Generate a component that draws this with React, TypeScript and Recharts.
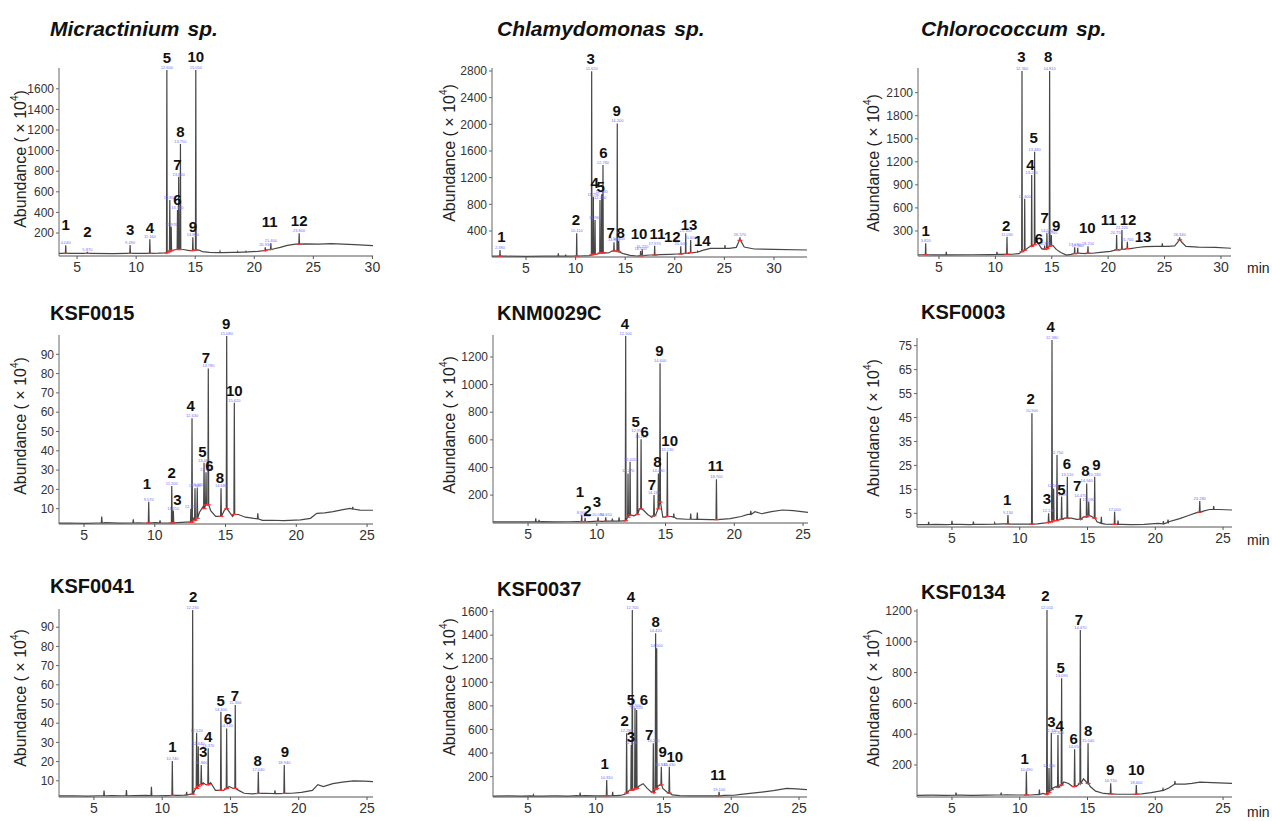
import React from 'react';
import { ComposedChart, Line, XAxis, YAxis, ReferenceDot } from 'recharts';

// [time, abundance] points of the slowly varying trace between peaks
const base1 = [[3.47, 2], [4.5, 3], [6, 2], [8, 1], [9.2, 2], [10.5, 3], [11.9, 4], [12.4, 6], [12.75, 25], [13.2, 35], [13.4, 40], [14.0, 40], [14.5, 30], [15.3, 35], [15.6, 20], [16.2, 12], [17.0, 10], [17.3, 10], [18.2, 12], [19.0, 14], [19.5, 18], [20.3, 22], [21.0, 35], [21.6, 45], [22.2, 60], [22.8, 80], [23.5, 92], [24.3, 95], [25.5, 92], [26.5, 98], [27.5, 92], [28.5, 88], [30.05, 78]];
const base2 = [[1.57, 22], [2.2, 22], [3, 22], [5, 20], [7, 22], [8.0, 22], [8.5, 22], [9.3, 22], [10, 25], [10.3, 25], [11.4, 30], [12.2, 55], [12.9, 75], [13.3, 70], [13.7, 100], [14.45, 80], [14.8, 60], [15.5, 35], [16.2, 25], [17.5, 40], [18.5, 45], [19.5, 50], [20.3, 55], [21.4, 65], [22.0, 80], [22.8, 110], [23.6, 140], [24.6, 140], [25.5, 140], [26.2, 155], [26.45, 240], [26.7, 240], [27.0, 160], [28, 130], [30, 125], [33.33, 115]];
const base3 = [[3.14, -10], [4.5, -12], [6, -12], [8, -10], [9.5, -8], [10.6, -5], [11.5, -3], [12.1, 5], [12.45, 30], [12.9, 80], [13.1, 100], [13.35, 110], [13.6, 200], [13.75, 150], [14.1, 70], [14.45, 60], [14.7, 90], [15.1, 110], [15.4, 60], [15.8, 20], [16.3, -15], [16.7, -5], [17.5, 10], [18.0, 5], [18.6, 10], [19.3, 20], [20.2, 35], [21.0, 50], [21.45, 60], [22.0, 70], [22.6, 85], [23.3, 95], [24.2, 100], [25.3, 100], [25.9, 105], [26.15, 150], [26.55, 150], [26.9, 100], [28, 90], [29.5, 85], [30.89, 75]];
const base4 = [[3.23, 2.5], [4, 2.6], [5, 2.4], [6.0, 2.6], [6.5, 2.8], [7.5, 2.5], [8.8, 2.7], [9.3, 2.6], [10, 2.8], [10.8, 2.6], [11.6, 2.8], [12.2, 3], [12.75, 5], [13.15, 8], [13.4, 11], [13.95, 9], [14.3, 6], [14.5, 6], [14.9, 9], [15.3, 8], [15.5, 6], [15.9, 7], [16.4, 5.6], [17.0, 5], [17.6, 4], [18.3, 4], [19.1, 3.8], [20.3, 4.2], [21.0, 5], [21.45, 7.6], [22.0, 7.8], [22.6, 8.5], [23.3, 9.5], [23.8, 10.2], [24.5, 9.3], [25.42, 9.2]];
const base5 = [[2.45, 6], [3.5, 6], [4.5, 7], [5.2, 6], [6.0, 8], [7, 6], [8, 7], [8.6, 8], [9.5, 8], [9.8, 10], [10.4, 10], [10.9, 11], [11.4, 12], [11.9, 14], [12.35, 60], [12.7, 50], [13.1, 100], [13.4, 90], [13.7, 60], [14.0, 40], [14.3, 60], [14.8, 40], [15.0, 40], [15.4, 45], [15.8, 30], [16.5, 25], [17.6, 24], [18.3, 22], [19.0, 24], [19.7, 30], [20.5, 45], [21.0, 60], [21.5, 80], [22.0, 65], [22.7, 80], [23.5, 92], [24.3, 88], [25.36, 75]];
const base6 = [[2.42, 0.3], [3.8, 0.4], [4.6, 0.3], [5.6, 0.4], [6.3, 0.3], [7.2, 0.4], [8.3, 0.5], [8.8, 0.6], [9.5, 0.5], [10.4, 0.5], [11.3, 0.6], [11.9, 1.0], [12.2, 1.5], [12.62, 2], [12.95, 2.5], [13.3, 3], [13.8, 3], [14.2, 2.5], [14.7, 3.5], [15.2, 4], [15.7, 1.5], [16.3, 0.5], [17.5, 0.4], [18.2, 0.3], [19.2, 0.4], [20.2, 0.8], [21.0, 1.5], [21.8, 2.8], [22.5, 4.2], [23.0, 5.2], [23.6, 6.0], [24.0, 6.6], [24.7, 6.6], [25.66, 6.4]];
const base7 = [[2.44, 2.1], [3.5, 2.2], [4.5, 2.0], [5.3, 2.2], [6.3, 2.3], [7.0, 2.2], [8, 2.3], [8.8, 2.4], [9.6, 2.2], [10.3, 2.3], [11.2, 2.4], [11.6, 2.5], [12.1, 3], [12.45, 6], [12.7, 8], [13.0, 9], [13.2, 8], [13.55, 9], [13.9, 5], [14.5, 5], [14.9, 7], [15.2, 6], [15.6, 5], [16.0, 3.5], [16.6, 3.2], [17.5, 3.5], [18.5, 3.3], [19.5, 3.5], [20.2, 4], [21.0, 5], [21.4, 8], [21.8, 7], [22.5, 8.5], [23.2, 9.3], [24.0, 10], [24.8, 9.8], [25.44, 9.6]];
const base8 = [[2.42, 35], [3.5, 36], [4.5, 35], [5.2, 36], [6, 35], [7, 36], [8, 35], [8.6, 38], [9.2, 38], [10.0, 36], [10.6, 37], [11.5, 38], [11.8, 40], [12.15, 50], [12.45, 80], [12.8, 90], [13.2, 120], [13.5, 140], [13.8, 100], [14.1, 70], [14.3, 60], [14.6, 120], [14.95, 100], [15.25, 70], [15.65, 45], [16.2, 38], [17.0, 36], [18.0, 36], [18.8, 36], [19.5, 40], [20.2, 42], [20.7, 50], [21.9, 64], [23.1, 81], [24.1, 100], [24.8, 96], [25.59, 90]];
const base9 = [[2.42, 3], [3.5, 4], [4.5, 3], [5.6, 4], [6.5, 3], [7.5, 4], [8.3, 5], [9.0, 6], [9.8, 5], [10.8, 5], [11.2, 7], [11.7, 15], [12.25, 35], [12.45, 50], [12.7, 60], [13.25, 90], [13.6, 80], [13.9, 60], [14.3, 70], [14.7, 110], [15.2, 60], [15.6, 30], [16.2, 15], [17.2, 10], [18.0, 10], [19.0, 12], [19.7, 20], [20.3, 30], [21.0, 50], [21.7, 75], [22.2, 75], [22.7, 80], [23.3, 88], [24.2, 85], [25.66, 80]];

// integrated peaks: [time, apex, foot]
const peaks1 = [[4.04, 80, 3], [5.87, 18, 2], [9.49, 84, 2], [11.16, 139, 3], [12.6, 1783, 8], [12.85, 520, 20], [12.97, 261, 30], [13.5, 423, 40], [13.6, 747, 40], [13.75, 1064, 40], [14.8, 158, 30], [15.05, 1783, 35], [20.93, 61, 30], [21.4, 100, 40], [23.8, 197, 92]];
const peaks2 = [[2.38, 115, 22], [10.11, 366, 25], [11.62, 2797, 40], [11.79, 914, 50], [11.96, 565, 50], [12.46, 865, 70], [12.63, 950, 70], [12.76, 1389, 70], [13.87, 230, 100], [14.2, 2014, 100], [14.35, 250, 90], [16.55, 100, 30], [16.72, 125, 30], [17.97, 180, 40], [20.6, 170, 55], [21.1, 366, 65], [21.6, 265, 75], [26.57, 305, 260]];
const peaks3 = [[3.82, 139, -10], [11.03, 225, -4], [12.36, 2382, 30], [12.6, 720, 50], [13.22, 1028, 100], [13.48, 1331, 120], [14.37, 110, 60], [14.57, 269, 70], [14.81, 2382, 100], [14.96, 247, 110], [17.03, 87, 5], [17.3, 80, 8], [18.21, 100, 12], [20.75, 247, 55], [21.22, 312, 60], [21.7, 160, 70], [26.34, 217, 185]];
const peaks4 = [[9.57, 13.6, 2.6], [11.2, 21.8, 2.6], [11.31, 9, 2.7], [12.55, 10, 3], [12.63, 56.8, 3], [12.84, 20.6, 4], [13.0, 21, 5], [13.48, 33.8, 10], [13.62, 28.9, 12], [13.78, 82.7, 12], [14.68, 20.6, 6], [15.08, 99.5, 10], [15.62, 64.9, 7]];
const peaks5 = [[8.9, 55, 8], [9.15, 35, 8], [10.09, 40, 10], [10.65, 40, 10], [12.1, 1352, 14], [12.27, 357, 40], [12.42, 441, 55], [12.95, 651, 60], [13.22, 604, 100], [14.16, 200, 50], [14.48, 357, 100], [14.6, 1154, 150], [15.13, 514, 45], [18.7, 314, 22]];
const peaks6 = [[9.13, 4.3, 0.6], [10.9, 46.8, 0.5], [12.13, 5, 1.2], [12.38, 77.4, 1.5], [12.5, 15.4, 2], [12.75, 29.4, 2], [13.09, 12, 2.5], [13.51, 20.3, 3], [14.47, 11.3, 2.5], [14.94, 17.5, 3.5], [15.09, 9.9, 4], [15.53, 20.3, 3], [17.0, 5.7, 0.4], [23.28, 10.1, 5.5]];
const peaks7 = [[10.74, 20.3, 2.4], [12.23, 99, 3], [12.52, 35, 6], [12.64, 28, 7], [12.86, 18.2, 8], [13.37, 26.9, 8], [14.3, 46, 5], [14.72, 37.3, 6], [15.35, 49.5, 6], [17.04, 14.7, 3.4], [18.94, 18.2, 3.4]];
const peaks8 = [[10.81, 171, 37], [12.28, 567, 60], [12.62, 468, 85], [12.7, 1614, 85], [12.9, 780, 95], [13.02, 765, 100], [14.25, 483, 65], [14.42, 1416, 90], [14.5, 1289, 100], [14.84, 284, 130], [15.43, 284, 60], [19.1, 72, 37]];
const peaks9 = [[10.49, 157, 5], [12.01, 1207, 10], [12.16, 180, 20], [12.33, 410, 40], [12.82, 395, 55], [13.09, 763, 70], [14.05, 302, 60], [14.47, 1077, 80], [15.04, 341, 80], [16.71, 81, 12], [18.6, 70, 10]];

// small unannotated spikes: [time, apex, foot]
const bumps1 = [[17.1, 22, 10], [18.6, 20, 12], [19.3, 22, 15]];
const bumps2 = [[8.26, 66, 22], [9.0, 45, 22], [22.3, 95, 85], [25.06, 190, 140]];
const bumps3 = [[5.65, 30, -12], [10.14, 30, -6], [24.8, 139, 100]];
const bumps4 = [[6.25, 5.9, 2.6], [8.48, 4.5, 2.6], [10.37, 4, 2.7], [17.28, 7.6, 4.8], [23.99, 11, 9.8]];
const bumps5 = [[5.56, 31, 6], [5.8, 20, 6], [11.13, 30, 11], [11.62, 40, 12], [15.6, 67, 40], [16.83, 67, 25], [17.31, 74, 24], [21.2, 86, 60]];
const bumps6 = [[3.28, 1.5, 0.3], [5.0, 1.9, 0.4], [6.58, 1.6, 0.4], [8.15, 1.0, 0.5], [16.02, 3.6, 0.8], [17.25, 2, 0.4], [20.6, 1.8, 0.6], [20.94, 2.4, 1.2], [24.31, 8, 6.6]];
const bumps7 = [[5.74, 4.9, 2.2], [7.38, 5.2, 2.2], [9.21, 6.9, 2.3], [11.79, 4.3, 2.6], [18.26, 5, 3.3]];
const bumps8 = [[5.4, 45, 35], [8.85, 64, 36], [11.25, 72, 38]];
const bumps9 = [[5.3, 20, 4], [8.63, 20, 5], [11.45, 40, 8], [20.57, 45, 35], [21.45, 95, 75]];

// peak numbers: [time, abundance, text]
const labels1 = [[4.04, 287, '1'], [5.87, 213, '2'], [9.49, 236, '3'], [11.16, 252, '4'], [12.6, 1906, '5'], [13.5, 530, '6'], [13.5, 867, '7'], [13.75, 1184, '8'], [14.8, 261, '9'], [15.05, 1918, '10'], [21.3, 310, '11'], [23.8, 326, '12']];
const labels2 = [[2.51, 315, '1'], [10.04, 580, '2'], [11.52, 2987, '3'], [11.92, 1124, '4'], [12.53, 1064, '5'], [12.8, 1574, '6'], [13.54, 380, '7'], [14.55, 380, '8'], [14.14, 2203, '9'], [16.39, 366, '10'], [18.24, 366, '11'], [19.75, 315, '12'], [21.43, 505, '13'], [22.77, 255, '14']];
const labels3 = [[3.82, 303, '1'], [10.96, 369, '2'], [12.3, 2577, '3'], [13.1, 1171, '4'], [13.39, 1519, '5'], [13.87, 204, '6'], [14.37, 477, '7'], [14.67, 2577, '8'], [15.4, 369, '9'], [18.15, 342, '10'], [20.04, 455, '11'], [21.76, 455, '12'], [23.09, 225, '13']];
const labels4 = [[9.45, 23.2, '1'], [11.2, 28.9, '2'], [11.6, 14.9, '3'], [12.54, 63.7, '4'], [13.36, 39.5, '5'], [13.86, 32.6, '6'], [13.62, 88.4, '7'], [14.61, 26.3, '8'], [15.04, 105.7, '9'], [15.62, 71.5, '10']];
const labels5 = [[8.78, 224, '1'], [9.31, 91, '2'], [10.0, 151, '3'], [12.05, 1444, '4'], [12.83, 731, '5'], [13.49, 659, '6'], [14.0, 280, '7'], [14.4, 446, '8'], [14.55, 1246, '9'], [15.3, 594, '10'], [18.65, 412, '11']];
const labels6 = [[9.08, 10.6, '1'], [10.81, 53, '2'], [12.01, 11.3, '3'], [12.28, 82.9, '4'], [13.07, 15, '5'], [13.49, 25.9, '6'], [14.23, 16.8, '7'], [14.84, 22.8, '8'], [15.65, 25.2, '9']];
const labels7 = [[10.74, 27.8, '1'], [12.27, 105.9, '2'], [13.0, 25.2, '3'], [13.37, 33, '4'], [14.28, 52, '5'], [14.82, 42.5, '6'], [15.33, 54.3, '7'], [16.99, 20.8, '8'], [18.99, 25.5, '9']];
const labels8 = [[10.66, 313, '1'], [12.14, 680, '2'], [12.6, 539, '3'], [12.6, 1727, '4'], [12.6, 850, '5'], [13.56, 850, '6'], [13.95, 559, '7'], [14.42, 1515, '8'], [14.94, 412, '9'], [15.83, 369, '10'], [19.04, 214, '11']];
const labels9 = [[10.36, 243, '1'], [11.89, 1300, '2'], [12.33, 481, '3'], [12.95, 455, '4'], [13.02, 834, '5'], [13.98, 373, '6'], [14.37, 1148, '7'], [15.04, 427, '8'], [16.68, 168, '9'], [18.6, 168, '10']];

const xTicks30 = [5, 10, 15, 20, 25, 30];
const xTicks25 = [5, 10, 15, 20, 25];
const yTicks1 = [200, 400, 600, 800, 1000, 1200, 1400, 1600];
const yTicks2 = [400, 800, 1200, 1600, 2000, 2400, 2800];
const yTicks3 = [300, 600, 900, 1200, 1500, 1800, 2100];
const yTicks4 = [10, 20, 30, 40, 50, 60, 70, 80, 90];
const yTicks5 = [200, 400, 600, 800, 1000, 1200];
const yTicks6 = [5, 15, 25, 35, 45, 55, 65, 75];
const yTicks7 = [10, 20, 30, 40, 50, 60, 70, 80, 90];
const yTicks8 = [200, 400, 600, 800, 1000, 1200, 1400, 1600];
const yTicks9 = [200, 400, 600, 800, 1000, 1200];

const titles = ['Micractinium', 'Chlamydomonas', 'Chlorococcum', 'KSF0015', 'KNM0029C', 'KSF0003', 'KSF0041', 'KSF0037', 'KSF0134'];

const YW = 62;
const MT = 50;
const MR = 12;
const XH = 30;

const panels = [
  { g: { axisX: 59, right: 373, top: 68, bottom: 256, x: [3.47, 30.05], y: [-23, 1802] }, base: base1, peaks: peaks1, bumps: bumps1, labels: labels1, xt: xTicks30, yt: yTicks1 },
  { g: { axisX: 492, right: 807, top: 68, bottom: 257, x: [1.57, 33.33], y: [10, 2845] }, base: base2, peaks: peaks2, bumps: bumps2, labels: labels2, xt: xTicks30, yt: yTicks2 },
  { g: { axisX: 918, right: 1231, top: 68, bottom: 256, x: [3.14, 30.89], y: [-26, 2421] }, base: base3, peaks: peaks3, bumps: bumps3, labels: labels3, xt: xTicks30, yt: yTicks3 },
  { g: { axisX: 59, right: 373, top: 335, bottom: 524, x: [3.23, 25.42], y: [2.07, 100] }, base: base4, peaks: peaks4, bumps: bumps4, labels: labels4, xt: xTicks25, yt: yTicks4 },
  { g: { axisX: 493, right: 808, top: 335, bottom: 523, x: [2.45, 25.36], y: [-2, 1359] }, base: base5, peaks: peaks5, bumps: bumps5, labels: labels5, xt: xTicks25, yt: yTicks5 },
  { g: { axisX: 917, right: 1232, top: 338, bottom: 527, x: [2.42, 25.66], y: [-0.7, 78.2] }, base: base6, peaks: peaks6, bumps: bumps6, labels: labels6, xt: xTicks25, yt: yTicks6 },
  { g: { axisX: 59, right: 373, top: 609, bottom: 797, x: [2.44, 25.44], y: [1.55, 99.5] }, base: base7, peaks: peaks7, bumps: bumps7, labels: labels7, xt: xTicks25, yt: yTicks7 },
  { g: { axisX: 493, right: 807, top: 609, bottom: 797, x: [2.42, 25.59], y: [27, 1622] }, base: base8, peaks: peaks8, bumps: bumps8, labels: labels8, xt: xTicks25, yt: yTicks8 },
  { g: { axisX: 917, right: 1232, top: 609, bottom: 797, x: [2.42, 25.66], y: [-8, 1213] }, base: base9, peaks: peaks9, bumps: bumps9, labels: labels9, xt: xTicks25, yt: yTicks9 },
];

const titlePos = [[50, 28], [497, 28], [921, 28], [50, 313], [497, 313], [921, 312], [50, 586], [497, 589], [921, 592]];
const yLabelPos = [[20, 159], [449, 153], [873, 163], [20, 426], [449, 425], [873, 428], [20, 698], [449, 687], [873, 698]];
const minPos = [[1247, 268], [1247, 540], [1247, 812]];

const FONT = '"Liberation Sans", Arial, sans-serif';

function buildTrace(base: number[][], peaks: number[][], bumps: number[][]) {
  const pts = base.map(([t, v]) => ({ t, v }));
  [...peaks, ...bumps].forEach(([t, h, b]) => {
    pts.push({ t: t - 0.03, v: b }, { t, v: h }, { t: t + 0.03, v: b });
  });
  return pts.sort((a, b) => a.t - b.t);
}

const Panel = ({ p }: { p: any }) => {
  const { g } = p;
  const trace = buildTrace(p.base, p.peaks, p.bumps);
  const width = g.right - g.axisX + YW + MR;
  const height = MT + (g.bottom - g.top) + XH;
  return (
    <div style={{ position: 'absolute', left: g.axisX - YW, top: g.top - MT }}>
      <ComposedChart width={width} height={height} data={trace} margin={{ top: MT, right: MR, bottom: 0, left: 0 }}>
        <XAxis
          type="number"
          dataKey="t"
          domain={g.x}
          ticks={p.xt}
          allowDataOverflow
          interval={0}
          height={XH}
          stroke="#555"
          tickSize={3}
          tickMargin={3}
          tick={{ fontSize: 14, fill: '#333', fontFamily: FONT }}
        />
        <YAxis
          type="number"
          domain={g.y}
          ticks={p.yt}
          allowDataOverflow
          interval={0}
          width={YW}
          stroke="#666"
          tickSize={3}
          tickMargin={2}
          tick={{ fontSize: 12, fill: '#333', fontFamily: FONT }}
        />
        <Line type="linear" dataKey="v" stroke="#474747" strokeWidth={1.2} dot={false} isAnimationActive={false} />
        {p.peaks.map(([t, h, b]: number[], i: number) => (
          <ReferenceDot
            key={'f' + i}
            x={t}
            y={b}
            ifOverflow="visible"
            shape={(d: any) => (
              <line x1={d.cx - 2.5} x2={d.cx + 2.5} y1={d.cy} y2={d.cy} stroke="#ff3030" strokeWidth={1.2} />
            )}
          />
        ))}
        {p.peaks.map(([t, h]: number[], i: number) => (
          <ReferenceDot
            key={'b' + i}
            x={t}
            y={h}
            ifOverflow="visible"
            shape={(d: any) => (
              <text x={d.cx} y={d.cy - 1} fontSize={4} fill="#6f6fff" textAnchor="middle" fontFamily={FONT}>
                {t.toFixed(3)}
              </text>
            )}
          />
        ))}
        {p.labels.map(([t, v, s]: any[], i: number) => (
          <ReferenceDot
            key={'l' + i}
            x={t}
            y={v}
            ifOverflow="visible"
            shape={(d: any) => (
              <text x={d.cx} y={d.cy} fontSize={15} fontWeight="bold" fill="#111" textAnchor="middle" dominantBaseline="central" fontFamily={FONT}>
                {s}
              </text>
            )}
          />
        ))}
      </ComposedChart>
    </div>
  );
};

export default function App() {
  return (
    <div style={{ position: 'absolute', left: 0, top: 0, width: 1272, height: 821, background: '#fff', overflow: 'hidden' }}>
      {panels.map((p, i) => (
        <Panel key={i} p={p} />
      ))}
      <svg width={1272} height={821} style={{ position: 'absolute', left: 0, top: 0, pointerEvents: 'none' }}>
        {titles.map((s, i) => (
          <text
            key={'t' + i}
            x={titlePos[i][0]}
            y={titlePos[i][1]}
            fontSize={i < 3 ? 21 : 20}
            fontWeight="bold"
            fontStyle={i < 3 ? 'italic' : 'normal'}
            fill="#111"
            dominantBaseline="central"
            fontFamily={FONT}
          >
            {s}
            {i < 3 && <tspan dx={8}>sp.</tspan>}
          </text>
        ))}
        {yLabelPos.map(([x, y], i) => (
          <text
            key={'y' + i}
            transform={`translate(${x},${y}) rotate(-90)`}
            fontSize={16}
            fill="#222"
            textAnchor="middle"
            dominantBaseline="central"
            fontFamily={FONT}
          >
            Abundance ( × 10<tspan fontSize={10} dy={-6}>4</tspan>
            <tspan dy={6}>)</tspan>
          </text>
        ))}
        {minPos.map(([x, y], i) => (
          <text key={'m' + i} x={x} y={y} fontSize={14} fill="#222" dominantBaseline="central" fontFamily={FONT}>
            min
          </text>
        ))}
      </svg>
    </div>
  );
}
